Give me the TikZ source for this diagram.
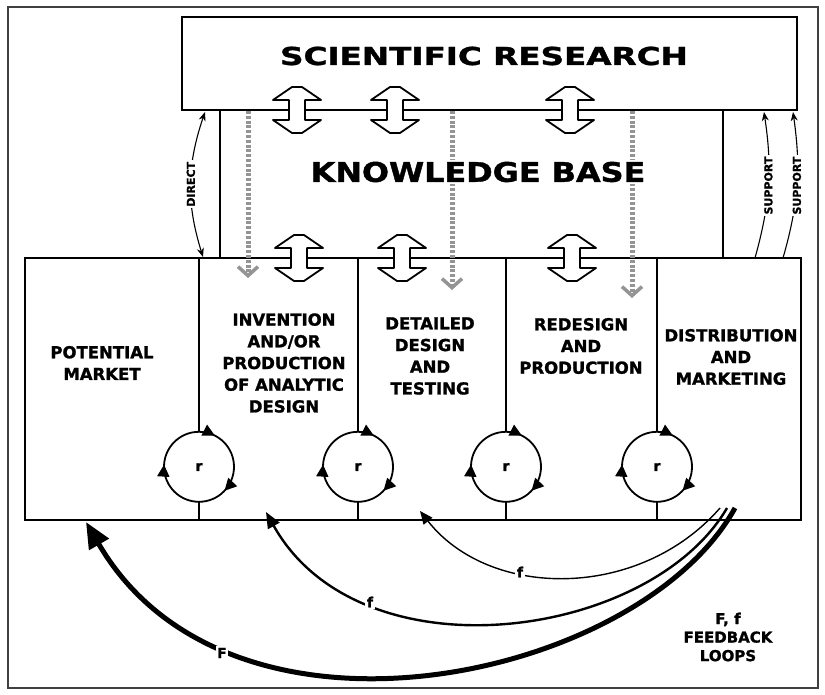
\documentclass[tikz,border=0pt]{standalone}
\usepackage{fontspec}
\setmainfont{DejaVu Sans}
\newfontfamily\heavy{DejaVu Sans Bold}[FakeBold=1.3]
\usetikzlibrary{arrows.meta,decorations.markings}
\tikzset{
  box/.style={draw, line width=2.2pt, inner sep=0pt},
  kbline/.style={line width=2.4pt},
  divider/.style={line width=1.2pt},
  coltext/.style={align=center, font=\fontsize{16.5}{21.7}\selectfont\heavy, inner sep=0pt},
  grayarrow/.style={draw=black!42, line width=5pt, dash pattern=on 3pt off 1.8pt,
     -{Straight Barb[length=9pt,width=20pt,line width=3.5pt]}},
  loopline/.style={line width=1.8pt, postaction={decorate},
     decoration={markings,
       mark=at position 0.075 with {\arrow{Triangle[length=12pt,width=12pt]}},
       mark=at position 0.37 with {\arrow{Triangle[length=12pt,width=12pt]}},
       mark=at position 0.76 with {\arrow{Triangle[length=12pt,width=12pt]}}}},
  sidearrow/.style={line width=1.1pt},
  sidelabel/.style={fill=white, rotate=90, inner sep=1.5pt, font=\fontsize{11}{11}\selectfont\heavy},
  fblabel/.style={fill=white, inner sep=1.5pt, font=\fontsize{14}{14}\selectfont\heavy},
  dblarrow/.pic={\draw[line width=1.8pt, fill=white, line join=round]
     (-5,-23)--(5,-23)--(24,-10)--(8,-10)--(8,10)--(24,10)--(5,23)--(-5,23)
     --(-24,10)--(-8,10)--(-8,-10)--(-24,-10)--cycle;}
}
\begin{document}
\begin{tikzpicture}[x=1pt,y=-1pt]
\useasboundingbox (0,0) rectangle (825,695);
% outer frame
\draw[line width=1.6pt, black!75] (8,7) rectangle (818,688);

% main boxes
\node[box, minimum width=615pt, minimum height=93pt] (sr) at (489.5,63.5) {};
\node[box, minimum width=776pt, minimum height=262pt] (lb) at (413,389) {};

% knowledge base side lines
\coordinate (kl) at (220,0);
\coordinate (kr) at (723,0);
\draw[kbline] (sr.south -| kl) -- (lb.north -| kl);
\draw[kbline] (sr.south -| kr) -- (lb.north -| kr);

% gray dashed arrows
\coordinate (g1) at (248,278);
\coordinate (g2) at (452,290);
\coordinate (g3) at (632,298);
\draw[grayarrow] (sr.south -| g1) -- (g1);
\draw[grayarrow] (sr.south -| g2) -- (g2);
\draw[grayarrow] (sr.south -| g3) -- (g3);

% titles
\node (srt) at (484,56) {\scalebox{1.32}[1]{\fontsize{24.7}{26}\selectfont\heavy SCIENTIFIC RESEARCH}};
\node[fill=white, inner sep=2pt] (kbt) at (478,172) {\scalebox{1.18}[1]{\fontsize{27}{28}\selectfont\heavy KNOWLEDGE BASE}};

% hollow double arrows
\pic (da1) at (297,110) {dblarrow};
\pic (da2) at (395,110) {dblarrow};
\pic (da3) at (570,110) {dblarrow};
\pic (db1) at (299,258) {dblarrow};
\pic (db2) at (402,258) {dblarrow};
\pic (db3) at (572,258) {dblarrow};

% loops and dividers
\foreach \n/\x in {1/199,2/358,3/506,4/657}{
  \node[circle, minimum size=70pt, inner sep=0pt] (c\n) at (\x,467) {\fontsize{14}{14}\selectfont\heavy r};
  \draw[loopline] (c\n.north) arc[start angle=90, end angle=-270, radius=35pt];
  \draw[divider] (c\n.north |- lb.north) -- (c\n.north);
  \draw[divider] (c\n.south) -- (c\n.south |- lb.south);
}

% column texts
\node[coltext] (pm) at (102,363) {POTENTIAL\\MARKET};
\node[coltext] (inv) at (284,363) {INVENTION\\AND/OR\\PRODUCTION\\OF ANALYTIC\\DESIGN};
\node[coltext] (det) at (430,356) {DETAILED\\DESIGN\\AND\\TESTING};
\node[coltext] (red) at (581,346) {REDESIGN\\AND\\PRODUCTION};
\node[coltext] (dis) at (731,357) {DISTRIBUTION\\AND\\MARKETING};

% side links
\coordinate (dT) at (205,112);
\coordinate (dB) at (203,257);
\draw[sidearrow, {Stealth[length=9pt,width=7pt]}-{Stealth[length=9pt,width=7pt]}]
   (dT) to[bend right=18] node[sidelabel] {DIRECT} (dB);
\coordinate (s1B) at (755,258);
\coordinate (s1T) at (764,112);
\coordinate (s2B) at (783,258);
\coordinate (s2T) at (793,112);
\draw[sidearrow, -{Stealth[length=9pt,width=7pt]}]
   (s1B) to[bend right=12] node[sidelabel] {SUPPORT} (s1T);
\draw[sidearrow, -{Stealth[length=9pt,width=7pt]}]
   (s2B) to[bend right=12] node[sidelabel] {SUPPORT} (s2T);

% feedback loops
\coordinate (fa) at (720,508);
\coordinate (fae) at (420,511);
\coordinate (fb) at (727,508);
\coordinate (fbe) at (266,512);
\coordinate (fc) at (735,508);
\coordinate (fce) at (86,522);
\draw[line width=1.4pt, -{Triangle[length=13pt,width=11pt]}]
   (fa) .. controls (640,600) and (490,600) .. (fae);
\draw[line width=2.4pt, -{Triangle[length=16pt,width=13pt]}]
   (fb) .. controls (650,640) and (360,680) .. (fbe);
\draw[line width=5pt, -{Triangle[length=26pt,width=22pt]}]
   (fc) .. controls (640,680) and (230,770) .. (fce);
\node[fblabel] (l1) at (520,572) {f};
\node[fblabel] (l2) at (370,602) {f};
\node[fblabel] (l3) at (222,653) {F};

% legend
\node[align=center, inner sep=0pt, font=\fontsize{15}{18.5}\selectfont\heavy] (leg) at (728,637) {F, f\\FEEDBACK\\LOOPS};
\end{tikzpicture}
\end{document}
